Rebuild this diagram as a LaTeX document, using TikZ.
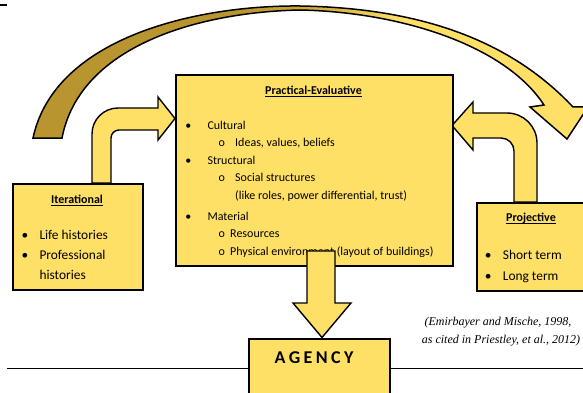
\documentclass[tikz,border=0pt]{standalone}
\usepackage{fontspec}
\setmainfont{Carlito}
\newfontfamily\citefont{Liberation Serif}

\definecolor{boxyellow}{HTML}{FFE066}
\definecolor{arcgold}{HTML}{B8952E}
\definecolor{arcmid}{HTML}{D9B544}

% gold on the left, fading to yellow towards the arrow head
\pgfdeclarehorizontalshading{arcfade}{100bp}{color(0bp)=(arcgold); color(44bp)=(arcgold); color(52bp)=(arcmid); color(58bp)=(boxyellow); color(100bp)=(boxyellow)}

% underline drawn a little below the baseline, crossing descenders
\newcommand\ulin[1]{\setbox0\hbox{#1}\rlap{\vrule height -1.8pt depth 2.6pt width \wd0}\box0}

\tikzset{
  box/.style={draw=black, line width=2pt, fill=boxyellow, inner sep=0pt, anchor=north west},
  blockarrow/.style={draw=black, line width=1.4pt, fill=boxyellow, line join=miter},
  txt/.style={anchor=base west, inner sep=0pt, font=\fontsize{12}{14}\selectfont},
  dot/.style={anchor=base, inner sep=0pt, font=\fontsize{12}{14}\selectfont},
  sidetxt/.style={anchor=base west, inner sep=0pt, font=\fontsize{13.4}{16}\selectfont},
  sidedot/.style={anchor=base, inner sep=0pt, font=\fontsize{13.4}{16}\selectfont},
  heading/.style={anchor=base, inner sep=0pt, font=\fontsize{12}{14}\selectfont\bfseries},
  citation/.style={anchor=base, inner sep=0pt, font=\citefont\itshape\fontsize{12}{14}\selectfont},
}

\begin{document}
\begin{tikzpicture}[x=1pt, y=-1pt]
\path[use as bounding box] (0,0) rectangle (583,393);
\clip (0,0) rectangle (583,393);

% short rule in the top left corner
\draw[line width=2pt] (0,5.5) -- (7,5.5);

% large curved arrow from the past to the future
\path[shading=arcfade, shade, draw=black, line width=1.5pt, line join=miter]
  (33,138) .. controls (55,36) and (200,5) .. (300,6)
  .. controls (420,8) and (510,40) .. (573,107)
  -- (588,107) -- (567,139) -- (530,107) -- (544,105)
  .. controls (505,45) and (400,12) .. (300,10)
  .. controls (200,12) and (80,45) .. (62,138) -- cycle;

% bent arrow: Iterational -> Practical-Evaluative
\path[blockarrow]
  (92,183) -- (92,134) .. controls (92,119.6) and (103.6,108) .. (118,108)
  -- (158,108) -- (158,97) -- (175,118.5) -- (158,140) -- (158,130)
  -- (119,130) .. controls (114.6,130) and (111,133.6) .. (111,138)
  -- (111,183) -- cycle;

% bent arrow: Projective -> Practical-Evaluative
\path[blockarrow]
  (537,202) -- (537,143) .. controls (537,126.4) and (523.6,113) .. (507,113)
  -- (473,113) -- (473,102) -- (452,125.5) -- (473,150) -- (473,138)
  -- (501,138) .. controls (508.2,138) and (514,143.8) .. (514,151)
  -- (514,202) -- cycle;

% boxes
\node[box, minimum width=277pt, minimum height=191pt] (pe) at (175,74) {};
\node[box, minimum width=130pt, minimum height=106pt] (iter) at (12,183) {};
\node[box, minimum width=130pt, minimum height=88pt] (proj) at (476,202) {};

% Practical-Evaluative
\node[heading] (petitle) at (313.5,94.5) {\ulin{Practical-Evaluative}};
\node[dot] (pd1) at (188.3,129) {•};
\node[txt] (pt1) at (207.3,129) {Cultural};
\node[dot] (ps1) at (221.7,146.5) {o};
\node[txt] (pt2) at (235,146.5) {Ideas, values, beliefs};
\node[dot] (pd2) at (188.3,164) {•};
\node[txt] (pt3) at (207.3,164) {Structural};
\node[dot] (ps2) at (221.7,181.5) {o};
\node[txt] (pt4) at (235,181.5) {Social structures};
\node[txt] (pt5) at (235,199) {(like roles, power differential, trust)};
\node[dot] (pd3) at (188.3,220) {•};
\node[txt] (pt6) at (207.3,220) {Material};
\node[dot] (ps3) at (221.7,237.5) {o};
\node[txt] (pt7) at (230,237.5) {Resources};
\node[dot] (ps4) at (221.7,255) {o};
\node[txt] (pt8) at (230,255) {Physical environment (layout of buildings)};

% Iterational
\node[heading] (ittitle) at (77,203) {\ulin{Iterational}};
\node[sidedot] (id1) at (25,239) {•};
\node[sidetxt] (it1) at (39.3,239) {Life histories};
\node[sidedot] (id2) at (25,259) {•};
\node[sidetxt] (it2) at (39.3,259) {Professional};
\node[sidetxt] (it3) at (39.3,279) {histories};

% Projective
\node[heading] (prtitle) at (531,221) {\ulin{Projective}};
\node[sidedot] (pr1d) at (488.3,259.5) {•};
\node[sidetxt] (pr1) at (502.7,259.5) {Short term};
\node[sidedot] (pr2d) at (488.3,280) {•};
\node[sidetxt] (pr2) at (502.7,280) {Long term};

% arrow down to agency
\path[blockarrow]
  (307,251) -- (335,251) -- (335,303) -- (351,303) -- (322,337.5)
  -- (293,303) -- (307,303) -- cycle;

% agency box and the baseline through it
\node[box, minimum width=141pt, minimum height=62pt] (agency) at (248,338) {};
\node[anchor=base, inner sep=0pt, font=\fontsize{18}{20}\selectfont\bfseries] (agencytxt) at (314,363)
  {A\kern3.4pt G\kern3.4pt E\kern3.4pt N\kern3.4pt C\kern3.4pt Y};
\coordinate (lineL) at (7,368);
\coordinate (lineR) at (583,368);
\draw[line width=1pt] (lineL) -- (lineL -| agency.west);
\draw[line width=1pt] (lineR -| agency.east) -- (lineR);

% source
\node[citation] (cite1) at (498,325.5) {(Emirbayer and Mische, 1998,};
\node[citation] (cite2) at (501,343.5) {as cited in Priestley, et al., 2012)};
\end{tikzpicture}
\end{document}
